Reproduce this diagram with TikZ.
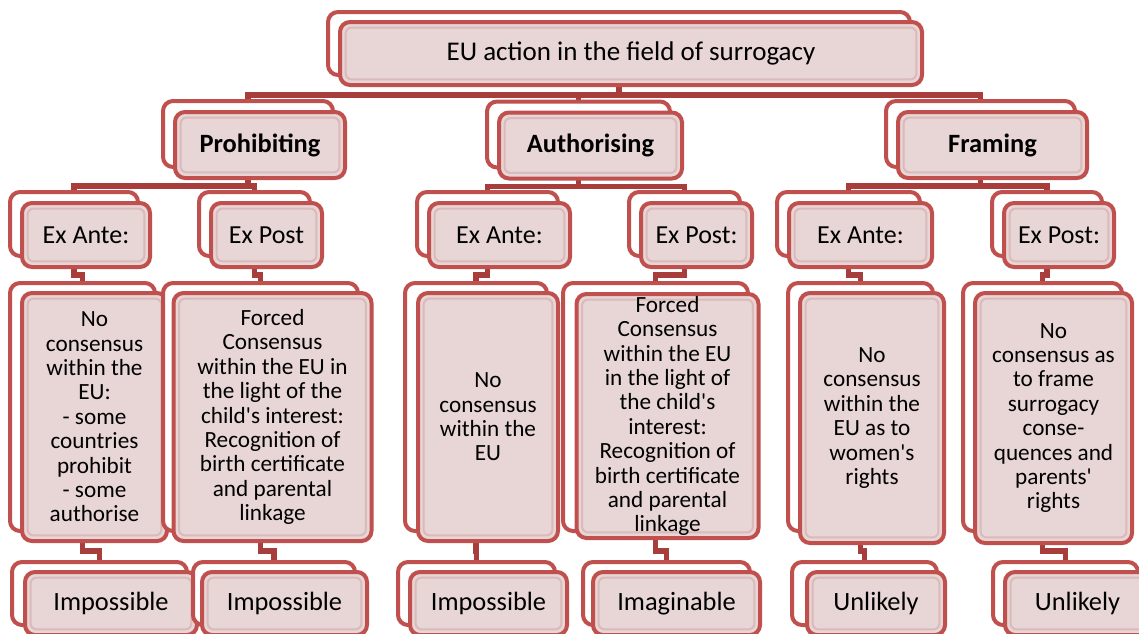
\documentclass[tikz,border=0pt]{standalone}
\usepackage{fontspec}
\setmainfont{Carlito}
\usetikzlibrary{positioning}
\definecolor{cardred}{RGB}{192,80,77}
\definecolor{cardpink}{RGB}{232,213,213}
\definecolor{linkred}{RGB}{168,62,60}
\definecolor{bevelpink}{RGB}{218,186,186}
\pgfdeclarelayer{bg}
\pgfsetlayers{bg,main}
\tikzset{cardback/.style={ % outline behind each card
draw=cardred, fill=white, line width=2pt,
rounded corners=5pt, inner sep=0pt},
card/.style={ % front card with the text
cardback, fill=cardpink, align=center,
path picture={\draw[bevelpink, line width=1pt, rounded corners=3pt]
([shift={(2.8pt,2.8pt)}]path picture bounding box.south west) rectangle
([shift={(-2.8pt,-2.8pt)}]path picture bounding box.north east);}},
lvlone/.style={font=\fontsize{13.5}{16}\selectfont},
lvltwo/.style={font=\fontsize{13.2}{16}\selectfont\bfseries},
lvlthree/.style={font=\fontsize{13}{15}\selectfont},
lvlfour/.style={font=\fontsize{11.6}{12.2}\selectfont},
lvlfive/.style={font=\fontsize{13.2}{15}\selectfont},
link/.style={draw=linkred, line width=2.6pt}}
\newcommand{\apos}{\textquotesingle}

\begin{document}
\begin{tikzpicture}[x=0.5pt, y=-0.5pt]
\useasboundingbox (0,0) rectangle (1139,633);
\clip (0,0) rectangle (1139,633);
% level 1
\node[cardback, minimum width=291pt, minimum height=31.5pt] (topB) at (619,43.5) {};
\node[card, lvlone, minimum width=291pt, minimum height=31.5pt] (top) at (631,53.5) {EU action in the field of surrogacy};
% level 2
\node[cardback, minimum width=85pt, minimum height=33pt] (prohB) at (248,134) {};
\node[card, lvltwo, minimum width=85pt, minimum height=33pt] (proh) at (260,145) {Prohibiting};
\node[cardback, minimum width=91.5pt, minimum height=33pt] (authB) at (578.5,134.5) {};
\node[card, lvltwo, minimum width=91.5pt, minimum height=33pt] (auth) at (590.5,145.5) {Authorising};
\node[cardback, minimum width=94.5pt, minimum height=33pt] (framB) at (980.5,134) {};
\node[card, lvltwo, minimum width=94.5pt, minimum height=33pt] (fram) at (992.5,145) {Framing};
% level 3
\node[cardback, minimum width=64pt, minimum height=32pt] (pantB) at (74,224) {};
\node[card, lvlthree, minimum width=64pt, minimum height=32pt] (pant) at (86,235) {Ex Ante:};
\node[cardback, minimum width=55.5pt, minimum height=32pt] (ppostB) at (254.5,224) {};
\node[card, lvlthree, minimum width=55.5pt, minimum height=32pt] (ppost) at (266.5,235) {Ex Post};
\node[cardback, minimum width=70.5pt, minimum height=32pt] (aantB) at (487.5,224) {};
\node[card, lvlthree, minimum width=70.5pt, minimum height=32pt] (aant) at (499.5,235) {Ex Ante:};
\node[cardback, minimum width=55.5pt, minimum height=32pt] (apostB) at (684.5,224) {};
\node[card, lvlthree, minimum width=55.5pt, minimum height=32pt] (apost) at (696.5,235) {Ex Post:};
\node[cardback, minimum width=71.5pt, minimum height=32pt] (fantB) at (848.5,224) {};
\node[card, lvlthree, minimum width=71.5pt, minimum height=32pt] (fant) at (860.5,235) {Ex Ante:};
\node[cardback, minimum width=55pt, minimum height=32pt] (fpostB) at (1047,224) {};
\node[card, lvlthree, minimum width=55pt, minimum height=32pt] (fpost) at (1059,235) {Ex Post:};
% level 4
\node[cardback, minimum width=72.5pt, minimum height=124pt] (pnoB) at (82.5,407) {};
\node[card, lvlfour, minimum width=72.5pt, minimum height=124pt] (pno) at (94.5,417) {No\\consensus\\within the\\EU:\\- some\\countries\\prohibit\\- some\\authorise};
\node[cardback, minimum width=97.5pt, minimum height=124pt] (pforB) at (260.5,407) {};
\node[card, lvlfour, minimum width=99pt, minimum height=124pt] (pfor) at (272.5,417) {Forced\\Consensus\\within the EU in\\the light of the\\child\apos s interest:\\Recognition of\\birth certificate\\and parental\\linkage};
\node[cardback, minimum width=71pt, minimum height=124pt] (anoB) at (476,407) {};
\node[card, lvlfour, minimum width=70pt, minimum height=124pt] (ano) at (488,417) {No\\consensus\\within the\\EU};
\node[cardback, minimum width=92.5pt, minimum height=124pt] (aforB) at (655.5,407) {};
\node[card, lvlfour, minimum width=91pt, minimum height=122pt] (afor) at (667.5,416) {Forced\\Consensus\\within the EU\\in the light of\\the child\apos s\\interest:\\Recognition of\\birth certificate\\and parental\\linkage};
\node[cardback, minimum width=72.5pt, minimum height=124pt] (fwomB) at (860.5,407) {};
\node[card, lvlfour, minimum width=72pt, minimum height=125pt] (fwom) at (872,418) {No\\consensus\\within the\\EU as to\\women\apos s\\rights};
\node[cardback, minimum width=79.5pt, minimum height=124pt] (fparB) at (1042.5,407) {};
\node[card, lvlfour, minimum width=78.5pt, minimum height=125pt] (fpar) at (1053.5,418) {No\\consensus as\\to frame\\surrogacy\\conse-\\quences and\\parents\apos\\rights};
% level 5
\node[cardback, minimum width=87.5pt, minimum height=31.5pt] (pimp1B) at (99.5,593.5) {};
\node[card, lvlfive, minimum width=86pt, minimum height=31.5pt] (pimp1) at (111,603.5) {Impossible};
\node[cardback, minimum width=81pt, minimum height=31.5pt] (pimp2B) at (274,593.5) {};
\node[card, lvlfive, minimum width=82.5pt, minimum height=31.5pt] (pimp2) at (284.5,603.5) {Impossible};
\node[cardback, minimum width=78.5pt, minimum height=31.5pt] (aimpB) at (476.5,593.5) {};
\node[card, lvlfive, minimum width=78.5pt, minimum height=31.5pt] (aimp) at (488.5,603.5) {Impossible};
\node[cardback, minimum width=83.5pt, minimum height=31.5pt] (aimagB) at (666.5,593.5) {};
\node[card, lvlfive, minimum width=83.5pt, minimum height=31.5pt] (aimag) at (676.5,603.5) {Imaginable};
\node[cardback, minimum width=72.5pt, minimum height=31.5pt] (funl1B) at (864.5,593.5) {};
\node[card, lvlfive, minimum width=69pt, minimum height=31.5pt] (funl1) at (876,603.5) {Unlikely};
\node[cardback, minimum width=72.5pt, minimum height=31.5pt] (funl2B) at (1065.5,593.5) {};
\node[card, lvlfive, minimum width=72.5pt, minimum height=31.5pt] (funl2) at (1077.5,603.5) {Unlikely};
% connectors
\begin{pgfonlayer}{bg}
\draw[link] (topB.south) -- ++(0,18) -| (prohB.north);
\draw[link] (topB.south) -- ++(0,18) -| (authB.north);
\draw[link] (topB.south) -- ++(0,18) -| (framB.north);
\foreach \up/\down in {proh/pant, proh/ppost, auth/aant, auth/apost, fram/fant, fram/fpost,
pant/pno, ppost/pfor, aant/ano, apost/afor, fant/fwom, fpost/fpar}
\draw[link] (\up B.south) -- ++(0,17) -| (\down B.north);
\foreach \up/\down in {pno/pimp1, pfor/pimp2, ano/aimp, afor/aimag, fwom/funl1, fpar/funl2}
\draw[link] (\up B.south) -- ++(0,18) -| (\down B.north);
\end{pgfonlayer}
\end{tikzpicture}
\end{document}
